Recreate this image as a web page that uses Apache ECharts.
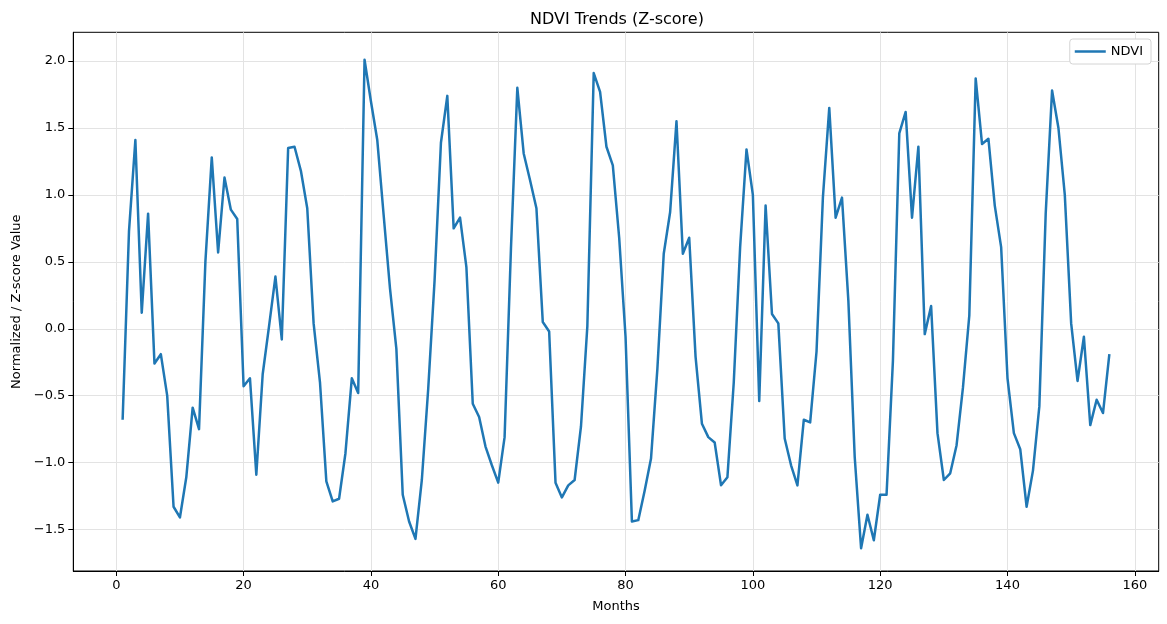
<!DOCTYPE html>
<html>
<head>
<meta charset="utf-8">
<title>NDVI Trends (Z-score)</title>
<script src="https://cdn.jsdelivr.net/npm/echarts@6/dist/echarts.min.js"></script>
<style>
  html, body { margin: 0; padding: 0; background: #fff; }
  #main { width: 1167px; height: 624px; }
</style>
</head>
<body>
<div id="main"></div>
<script>
// month index (x) and NDVI z-score (y)
var months = [
  1, 2, 3, 4, 5, 6, 7, 8, 9, 10, 11, 12, 13, 14, 15, 16, 17, 18, 19, 20,
  21, 22, 23, 24, 25, 26, 27, 28, 29, 30, 31, 32, 33, 34, 35, 36, 37, 38, 39, 40,
  41, 42, 43, 44, 45, 46, 47, 48, 49, 50, 51, 52, 53, 54, 55, 56, 57, 58, 59, 60,
  61, 62, 63, 64, 65, 66, 67, 68, 69, 70, 71, 72, 73, 74, 75, 76, 77, 78, 79, 80,
  81, 82, 83, 84, 85, 86, 87, 88, 89, 90, 91, 92, 93, 94, 95, 96, 97, 98, 99, 100,
  101, 102, 103, 104, 105, 106, 107, 108, 109, 110, 111, 112, 113, 114, 115, 116, 117, 118, 119, 120,
  121, 122, 123, 124, 125, 126, 127, 128, 129, 130, 131, 132, 133, 134, 135, 136, 137, 138, 139, 140,
  141, 142, 143, 144, 145, 146, 147, 148, 149, 150, 151, 152, 153, 154, 155, 156
];
var ndvi = [
  -0.68, 0.73, 1.41, 0.12, 0.86, -0.26, -0.19, -0.50, -1.33, -1.41,
  -1.11, -0.59, -0.75, 0.50, 1.28, 0.57, 1.13, 0.89, 0.82, -0.43,
  -0.37, -1.09, -0.34, 0.02, 0.39, -0.08, 1.35, 1.36, 1.18, 0.90,
  0.04, -0.40, -1.14, -1.29, -1.27, -0.93, -0.37, -0.48, 2.01, 1.70,
  1.41, 0.85, 0.30, -0.15, -1.24, -1.44, -1.57, -1.13, -0.45, 0.36,
  1.39, 1.74, 0.75, 0.83, 0.46, -0.56, -0.66, -0.88, -1.02, -1.15,
  -0.81, 0.60, 1.80, 1.31, 1.11, 0.90, 0.05, -0.02, -1.15, -1.26,
  -1.17, -1.13, -0.73, 0.02, 1.91, 1.77, 1.36, 1.22, 0.68, -0.06,
  -1.44, -1.43, -1.21, -0.97, -0.30, 0.56, 0.87, 1.55, 0.56, 0.68,
  -0.21, -0.71, -0.81, -0.85, -1.17, -1.11, -0.40, 0.61, 1.34, 1.00,
  -0.54, 0.92, 0.11, 0.04, -0.82, -1.02, -1.17, -0.68, -0.70, -0.17,
  0.98, 1.65, 0.83, 0.98, 0.21, -0.96, -1.64, -1.39, -1.58, -1.24,
  -1.24, -0.24, 1.46, 1.62, 0.83, 1.36, -0.04, 0.17, -0.78, -1.13,
  -1.08, -0.87, -0.44, 0.10, 1.87, 1.38, 1.42, 0.92, 0.61, -0.37,
  -0.78, -0.90, -1.33, -1.06, -0.58, 0.86, 1.78, 1.50, 1.00, 0.04,
  -0.39, -0.06, -0.72, -0.53, -0.63, -0.19
];
var xTicks = [0, 20, 40, 60, 80, 100, 120, 140, 160];
var yTicks = [-1.5, -1.0, -0.5, 0.0, 0.5, 1.0, 1.5, 2.0];

var lineData = [];
for (var i = 0; i < months.length; i++) {
  lineData.push([months[i], ndvi[i]]);
}

var font = 'DejaVu Sans';
var gridColor = '#e3e3e3';

var myChart = echarts.init(document.getElementById('main'));
var option = {
  backgroundColor: '#fff',
  animation: false,
  title: {
    text: 'NDVI Trends (Z-score)',
    left: 525,
    top: 7,
    textStyle: { fontFamily: font, fontSize: 16, fontWeight: 'normal', color: '#000' }
  },
  legend: {
    data: ['NDVI'],
    icon: 'rect',
    right: 16,
    top: 39,
    padding: [6, 8, 6, 5],
    itemWidth: 31,
    itemHeight: 2.5,
    itemGap: 8,
    borderColor: '#d4d4d4',
    borderWidth: 1,
    borderRadius: 3,
    backgroundColor: '#fff',
    textStyle: { fontFamily: font, fontSize: 13, color: '#000' }
  },
  grid: {
    left: 73.3,
    right: 8.3,
    top: 32.3,
    bottom: 53,
    show: true,
    borderColor: '#000',
    borderWidth: 1,
    backgroundColor: 'transparent'
  },
  xAxis: {
    type: 'value',
    min: -6.75,
    max: 163.75,
    name: 'Months',
    nameLocation: 'middle',
    nameGap: 29,
    nameTextStyle: { fontFamily: font, fontSize: 13, color: '#000' },
    axisLine: { show: true, onZero: false, lineStyle: { color: '#000', width: 1 } },
    axisTick: { show: true, inside: false, length: 5, lineStyle: { color: '#000' }, customValues: xTicks },
    axisLabel: {
      fontFamily: font, fontSize: 13, color: '#000', margin: 8,
      customValues: xTicks,
      formatter: function (v) { return String(v); }
    },
    splitLine: { show: true, lineStyle: { color: gridColor, width: 1 } }
  },
  yAxis: {
    type: 'value',
    min: -1.81,
    max: 2.215,
    name: 'Normalized / Z-score Value',
    nameLocation: 'middle',
    nameGap: 50,
    nameTextStyle: { fontFamily: font, fontSize: 13, color: '#000' },
    axisLine: { show: true, onZero: false, lineStyle: { color: '#000', width: 1 } },
    axisTick: { show: true, inside: false, length: 5, lineStyle: { color: '#000' }, customValues: yTicks },
    axisLabel: {
      fontFamily: font, fontSize: 13, color: '#000', margin: 8,
      customValues: yTicks,
      formatter: function (v) { return v.toFixed(1).replace('-', '\u2212'); }
    },
    splitLine: { show: true, lineStyle: { color: gridColor, width: 1 } }
  },
  series: [
    {
      name: 'NDVI',
      type: 'line',
      symbol: 'none',
      data: lineData,
      itemStyle: { color: '#1f77b4' },
      lineStyle: { color: '#1f77b4', width: 2.5, join: 'round' }
    }
  ]
};
myChart.setOption(option);
</script>
</body>
</html>
